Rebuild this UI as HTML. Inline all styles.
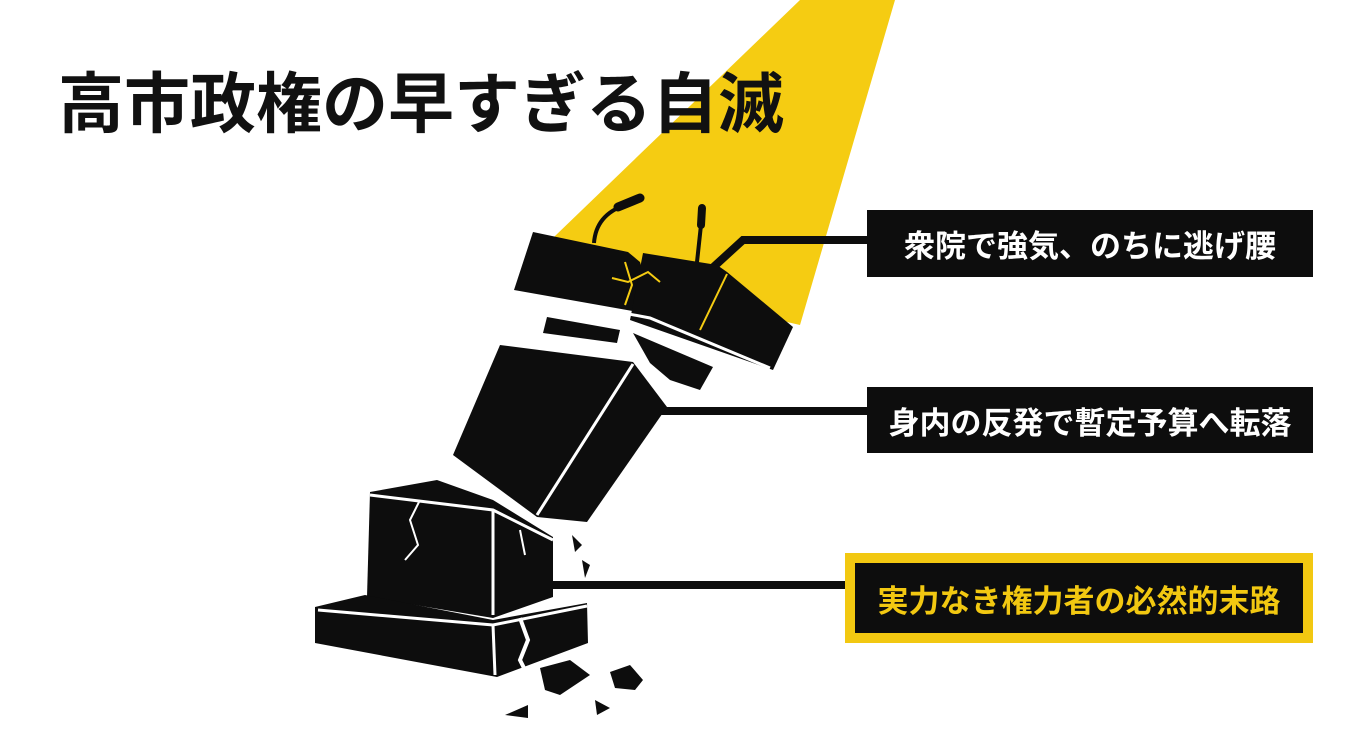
<!DOCTYPE html>
<html><head><meta charset="utf-8"><style>
html,body{margin:0;padding:0;background:#fff;}
body{width:1350px;height:730px;position:relative;overflow:hidden;font-family:"Liberation Sans","Noto Sans CJK JP",sans-serif;}
.title{position:absolute;left:58px;top:64px;font-size:66px;font-weight:bold;color:#111;letter-spacing:0px;white-space:nowrap;line-height:80px;}
.box{position:absolute;background:#0d0d0d;color:#fff;font-weight:bold;font-size:31px;display:flex;align-items:center;justify-content:center;white-space:nowrap;}
svg{position:absolute;left:0;top:0;}
</style></head><body>
<svg width="1350" height="730" viewBox="0 0 1350 730">
<polygon points="800,0 895,0 800,325 528,262" fill="#f5cc12"/>
<polyline points="867,240 743,240 708,272" fill="none" stroke="#0d0d0d" stroke-width="8"/>
<line x1="660" y1="411" x2="868" y2="411" stroke="#0d0d0d" stroke-width="8"/>
<line x1="550" y1="585" x2="846" y2="585" stroke="#0d0d0d" stroke-width="8"/>
<path d="M594,243 Q596,215 625,205" fill="none" stroke="#0d0d0d" stroke-width="4"/>
<line x1="618" y1="207" x2="640" y2="198" stroke="#0d0d0d" stroke-width="9" stroke-linecap="round"/>
<line x1="697" y1="262" x2="701" y2="225" stroke="#0d0d0d" stroke-width="4"/>
<line x1="701" y1="225" x2="702" y2="208" stroke="#0d0d0d" stroke-width="8" stroke-linecap="round"/>
<polygon points="533,232 628,252 640,262 655,315 514,290" fill="#0d0d0d"/>
<polygon points="643,253 717,265 727,272 793,327 773,370 630,320" fill="#0d0d0d"/>
<polyline points="518,293 650,318 770,368" fill="none" stroke="#fff" stroke-width="3"/>
<line x1="727" y1="274" x2="700" y2="330" stroke="#f5cc12" stroke-width="2"/>
<path d="M625,262 L632,285 L625,305 M612,278 L628,282 L648,272 L660,282" fill="none" stroke="#f5cc12" stroke-width="2"/>
<polygon points="547,317 620,330 617,343 543,333" fill="#0d0d0d"/>
<polygon points="633,333 713,367 700,390 670,380 650,363" fill="#0d0d0d"/>
<polygon points="500,345 633,362 667,407 587,522 537,517 453,455" fill="#0d0d0d"/>
<line x1="633" y1="364" x2="537" y2="515" stroke="#fff" stroke-width="3"/>
<polygon points="370,492 437,480 493,500 553,537 553,597 493,618 367,597" fill="#0d0d0d"/>
<polyline points="370,495 493,510 553,540" fill="none" stroke="#fff" stroke-width="3"/>
<line x1="493" y1="510" x2="493" y2="615" stroke="#fff" stroke-width="3"/>
<path d="M420,500 L410,520 L418,545 L405,560 M520,530 L525,555" fill="none" stroke="#fff" stroke-width="2"/>
<polygon points="315,607 365,595 493,620 587,603 588,643 497,677 315,643" fill="#0d0d0d"/>
<polyline points="318,610 493,625 587,606" fill="none" stroke="#fff" stroke-width="3"/>
<line x1="493" y1="625" x2="495" y2="675" stroke="#fff" stroke-width="3"/>
<path d="M520,618 L528,640 L520,660 L535,690" fill="none" stroke="#fff" stroke-width="4"/>
<polygon points="572,535 582,545 575,552" fill="#0d0d0d"/>
<polygon points="582,560 590,565 585,578" fill="#0d0d0d"/>
<polygon points="540,668 570,660 590,675 560,695 545,690" fill="#0d0d0d"/>
<polygon points="610,672 630,665 643,680 635,690 615,688" fill="#0d0d0d"/>
<polygon points="505,715 528,705 528,718" fill="#0d0d0d"/>
<polygon points="595,700 610,708 597,715" fill="#0d0d0d"/>
</svg>
<div class="title">高市政権の早すぎる自滅</div>
<div class="box" style="left:867px;top:210px;width:446px;height:67px;">衆院で強気、のちに逃げ腰</div>
<div class="box" style="left:867px;top:387px;width:446px;height:66px;">身内の反発で暫定予算へ転落</div>
<div class="box" style="left:845px;top:553px;width:448px;height:70px;border:10px solid #f2c811;color:#f2c811;">実力なき権力者の必然的末路</div>
</body></html>
